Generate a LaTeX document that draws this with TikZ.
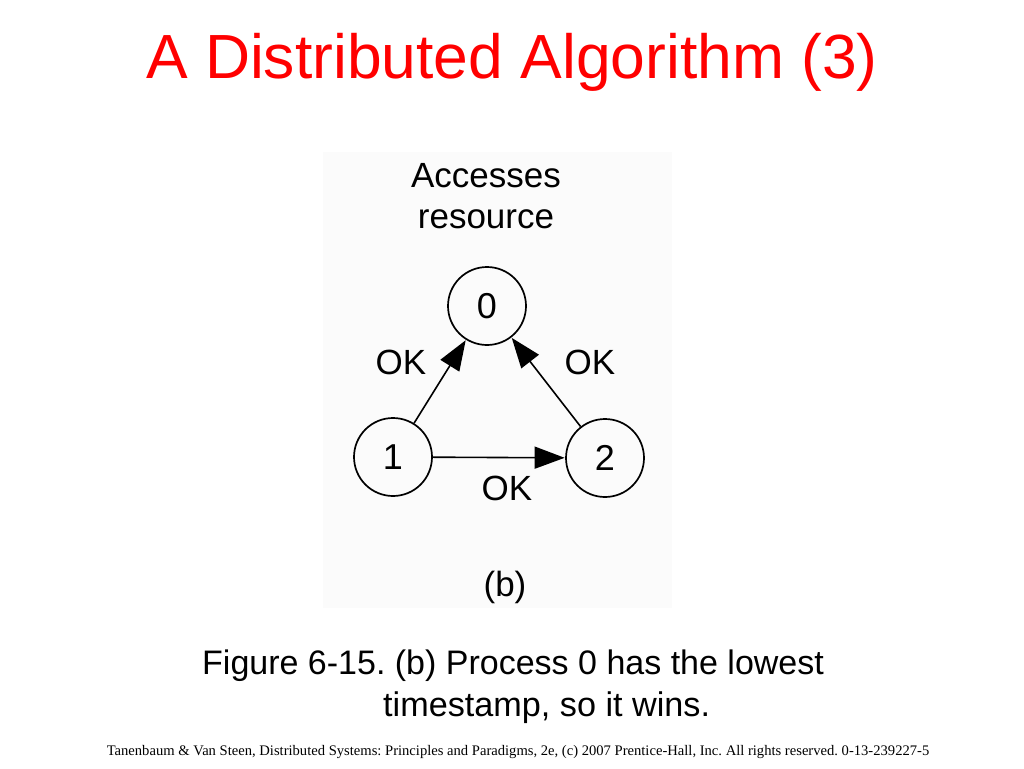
\documentclass[tikz,border=0pt]{standalone}
\usepackage{fontspec}
\setmainfont{Liberation Sans}
\newfontfamily\timesf{Liberation Serif}
\usetikzlibrary{arrows.meta}
\definecolor{titlered}{RGB}{255,0,0}
\frenchspacing
\tikzset{
  proc/.style={circle, draw, line width=1.7pt, minimum size=78pt, inner sep=0pt, font=\fontsize{36}{41}\selectfont},
  lbl/.style={inner sep=0pt, font=\fontsize{35}{41}\selectfont},
  conn/.style={line width=1.6pt, -{Triangle[length=30pt,width=22pt]}, shorten >=0.5pt},
}
\begin{document}
\begin{tikzpicture}[x=1pt,y=-1pt]
\useasboundingbox (0,0) rectangle (1024,768);
\fill[black!1.5] (323,152) rectangle (672,608);
\node[inner sep=0pt, text=titlered, font=\fontsize{62.4}{70}\selectfont] (title) at (512,62) {A Distributed Algorithm (3)};
\node[lbl, align=center] (acc) at (486,196) {Accesses\\resource};
\node[proc] (n0) at (487,306) {0};
\node[proc] (n1) at (393,457) {1};
\node[proc] (n2) at (605,458) {2};
\draw[conn] (n1) -- (n0);
\draw[conn] (n2) -- (n0);
\draw[conn] (n1) -- (n2);
\node[lbl] (ok1) at (401,362) {OK};
\node[lbl] (ok2) at (590,362) {OK};
\node[lbl] (ok3) at (507,488) {OK};
\node[lbl] (b) at (505,587) {(b)};
\node[anchor=west, inner sep=0pt, font=\fontsize{34}{40}\selectfont] (cap1) at (202,666) {Figure 6-15. (b) Process 0 has the lowest};
\node[anchor=west, inner sep=0pt, font=\fontsize{34.2}{40}\selectfont] (cap2) at (383,708) {timestamp, so it wins.};
\node[inner sep=0pt, font=\timesf\fontsize{14.6}{16}\selectfont] (foot) at (518,752) {Tanenbaum \& Van Steen, Distributed Systems: Principles and Paradigms, 2e, (c) 2007 Prentice-Hall, Inc. All rights reserved. 0-13-239227-5};
\end{tikzpicture}
\end{document}
